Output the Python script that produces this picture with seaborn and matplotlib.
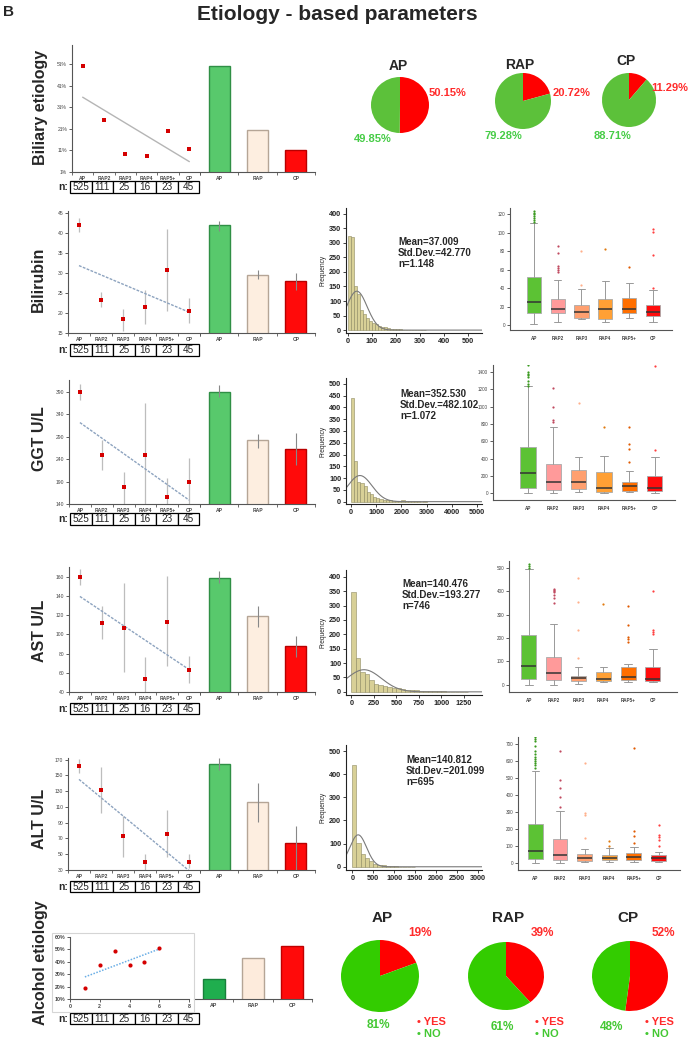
import numpy as np
import pandas as pd
import matplotlib
matplotlib.use("Agg")
import matplotlib.pyplot as plt
from matplotlib.patches import Rectangle
import seaborn as sns

sns.set_style("ticks")
plt.rcParams["font.family"] = ["Liberation Sans", "DejaVu Sans"]

W, H = 688, 1039

# ---------------- data ----------------
groups = ["AP", "RAP2", "RAP3", "RAP4", "RAP5+", "CP"]
n_counts = ["525", "111", "25", "16", "23", "45"]
main_groups = ["AP", "RAP", "CP"]

# biliary etiology (%)
biliary_pts = [50.2, 25.0, 9.5, 8.5, 20.0, 11.5]
biliary_bars = [50.15, 20.72, 11.29]
biliary_pie_yes = [50.15, 20.72, 11.29]
biliary_pie_no = [49.85, 79.28, 88.71]

# bilirubin
bili_pts = [41.9, 23.2, 18.4, 21.5, 30.7, 20.5]
bili_lo = [40.2, 21.4, 15.5, 17.2, 20.5, 17.5]
bili_hi = [43.7, 25.2, 21.0, 25.7, 41.0, 23.7]
bili_bars = [41.9, 29.6, 28.1]
bili_bars_lo = [40.6, 28.6, 25.7]
bili_bars_hi = [43.1, 30.7, 30.1]
bili_hist = [325, 320, 150, 125, 70, 55, 42, 32, 26, 20, 15, 12, 9, 7, 5, 4, 3, 3, 2, 2, 1, 1, 1, 1, 0, 1]
bili_q1 = [13, 12.6, 8, 6.5, 13, 9.4]
bili_med = [24.5, 17.7, 13.7, 17.7, 17.7, 14.4]
bili_q3 = [52, 28, 21.6, 28, 28.8, 21.6]
bili_wlo = [0.7, 3, 6, 3.6, 7.2, 3.6]
bili_whi = [111, 49, 39, 47.6, 45.4, 38.2]
bili_fliers = [[112, 114, 116, 118, 120, 122, 124], [58, 60, 62, 64, 78, 86],
               [43, 80], [83], [63], [40, 76, 101, 104]]

# GGT
ggt_pts = [390, 250, 177, 250, 155, 190]
ggt_lo = [372, 217, 140, 140, 130, 135]
ggt_hi = [409, 283, 212, 365, 197, 243]
ggt_bars = [391, 282, 263]
ggt_bars_lo = [380, 266, 227]
ggt_bars_hi = [406, 296, 298]
ggt_hist = [439, 173, 85, 81, 67, 42, 33, 21, 17, 11, 8, 6, 5, 4, 4, 3, 5, 3, 2, 2, 1, 1, 0, 1]
ggt_q1 = [66, 39, 47, 20, 27, 27]
ggt_med = [235, 125, 129, 66, 82, 55]
ggt_q3 = [528, 340, 266, 246, 133, 196]
ggt_wlo = [0, 0, 16, 8, 12, 8]
ggt_whi = [1232, 763, 419, 430, 262, 415]
ggt_fliers = [[1240, 1260, 1300, 1340, 1360, 1380, 1400, 1480], [820, 840, 990, 1220],
              [1040], [770], [360, 510, 570, 765], [500, 1470]]

# AST
ast_pts = [159.7, 112, 106.4, 53.8, 113.3, 63]
ast_lo = [151, 95, 60.4, 36, 66.6, 49.3]
ast_hi = [167.6, 129, 153, 76, 160.7, 77.7]
ast_bars = [159, 118.6, 87.4]
ast_bars_lo = [153, 107.6, 76.3]
ast_bars_hi = [166, 129.7, 98.5]
ast_hist = [348, 118, 70, 61, 41, 29, 23, 20, 17, 15, 13, 10, 8, 6, 5, 4, 3, 3, 2, 2, 2, 1, 1, 1, 0, 1]
ast_q1 = [26, 21, 17, 18, 21, 17]
ast_med = [81, 50, 31, 24, 36, 27]
ast_q3 = [213, 119, 40, 54, 75, 75]
ast_wlo = [0, 0, 6, 14, 11, 11]
ast_whi = [494, 258, 77, 77, 90, 153]
ast_fliers = [[500, 505, 515], [350, 370, 385, 395, 400, 405, 410], [115, 235, 355, 455],
              [345], [185, 195, 205, 255, 335], [215, 225, 235, 400]]

# ALT
alt_pts = [162, 131.8, 72.9, 39.7, 75.5, 40.5]
alt_lo = [153, 102, 46.8, 28, 46.8, 32]
alt_hi = [170.8, 161, 98, 50, 105.7, 50]
alt_bars = [164.5, 116.2, 63.6]
alt_bars_lo = [157, 91, 30]
alt_bars_hi = [172, 140, 85.5]
alt_hist = [439, 101, 55, 36, 26, 14, 9, 6, 4, 3, 2, 1, 1, 0, 1]
alt_q1 = [25, 20, 12, 18, 22, 14]
alt_med = [72, 51, 29, 29, 39, 29]
alt_q3 = [231, 141, 53, 49, 59, 49]
alt_wlo = [0, 0, 6, 10, 10, 8]
alt_whi = [540, 307, 84, 88, 98, 65]
alt_fliers = [[560, 575, 590, 600, 610, 625, 640, 660, 690, 720, 730, 740], [330, 390, 440, 490, 660],
              [150, 285, 295, 590], [100, 130], [120, 160, 190, 675], [100, 140, 155, 165, 225]]

# alcohol etiology (%)
alc_x = [1, 2, 3, 4, 5, 6]
alc_pts = [19, 37.7, 48.7, 37.7, 39.8, 51.4]
alc_bars = [26, 43, 53]
alc_pie_yes = [19, 39, 52]
alc_pie_no = [81, 61, 48]

# ---------------- helpers ----------------
fig = plt.figure(figsize=(W / 100, H / 100), dpi=100)


def px(l, t, r, b):
    return [l / W, 1 - b / H, (r - l) / W, (b - t) / H]


def fx(x, y):
    return x / W, 1 - y / H


def style_axis(ax, fs=3.6):
    sns.despine(ax=ax)
    for s in ("left", "bottom"):
        ax.spines[s].set_color("#555555")
        ax.spines[s].set_linewidth(0.8)
    ax.tick_params(labelsize=fs, colors="#444444", length=2, width=0.6, pad=1.5)
    ax.set_xlabel("")
    ax.set_ylabel("")


bar_colors = ["#58c96c", "#fdeee0", "#ff0a0a"]
bar_edges = ["#2f8f45", "#b5a596", "#b80000"]


def trend_row(sc, bb, pts, lo, hi, bars, blo, bhi, ylim, yticks, ylabels, lcolor, lstyle):
    ax = fig.add_axes(px(*sc))
    x = np.arange(len(groups))
    if lo is not None:
        ax.errorbar(x, pts, yerr=[np.subtract(pts, lo), np.subtract(hi, pts)], fmt="none",
                    ecolor="#bdbdbd", elinewidth=0.9, zorder=1)
    sns.regplot(x=x, y=pts, ax=ax, scatter=False, ci=None,
                line_kws=dict(color=lcolor, lw=1.0, linestyle=lstyle, zorder=2))
    sns.scatterplot(x=x, y=pts, ax=ax, color="#d40000", marker="s", s=7, linewidth=0, zorder=3)
    axb = fig.add_axes(px(*bb), sharey=ax)
    sns.barplot(x=main_groups, y=bars, hue=main_groups, palette=bar_colors, legend=False,
                ax=axb, width=0.55, saturation=1)
    for p, ec in zip(axb.patches, bar_edges):
        p.set_edgecolor(ec)
        p.set_linewidth(1.0)
    if blo is not None:
        axb.errorbar(np.arange(3), bars, yerr=[np.subtract(bars, blo), np.subtract(bhi, bars)],
                     fmt="none", ecolor="#888888", elinewidth=0.8, zorder=4)
    ax.set_xlim(-0.5, 5.5)
    ax.set_ylim(*ylim)
    ax.set_yticks(yticks, ylabels)
    ax.set_xticks(x, groups)
    style_axis(ax)
    style_axis(axb)
    axb.spines["left"].set_visible(False)
    axb.tick_params(axis="y", left=False, labelleft=False)
    axb.set_xlim(-0.5, 2.5)
    for a, nb in ((ax, 6), (axb, 3)):
        a.set_xticks(np.arange(nb + 1) - 0.5, minor=True)
        a.tick_params(axis="x", which="major", length=0, pad=3)
        a.tick_params(axis="x", which="minor", length=2, width=0.6, color="#555555")
        for t in a.get_xticklabels():
            t.set_fontweight("bold")
    return ax, axb


def n_table(l, t, r, b):
    axt = fig.add_axes(px(l, t, r, b))
    axt.axis("off")
    tb = axt.table(cellText=[n_counts], cellLoc="center", bbox=[0, 0, 1, 1])
    tb.auto_set_font_size(False)
    tb.set_fontsize(7.2)
    for c in tb.get_celld().values():
        c.set_linewidth(0.9)
    fig.text(*fx(l - 2, (t + b) / 2), "n:", ha="right", va="center", fontsize=7.5, fontweight="bold")


def hist_panel(box, counts, bw, mean, sd, n, txt, txt_pos, xlim, ylim, xticks, yticks):
    ax = fig.add_axes(px(*box))
    nb = len(counts)
    df = pd.DataFrame({"value": np.arange(nb) * bw + bw / 2, "count": counts})
    sns.histplot(data=df, x="value", weights="count", binwidth=bw, binrange=(0, nb * bw), ax=ax,
                 color="#d8d097", edgecolor="#8f8a62", linewidth=0.4, alpha=1)
    xs = np.linspace(xlim[0], xlim[1], 400)
    dens = n * bw * np.exp(-0.5 * ((xs - mean) / sd) ** 2) / (sd * np.sqrt(2 * np.pi))
    ax.plot(xs, dens, color="#7a7a7a", lw=0.8)
    ax.set_xlim(*xlim)
    ax.set_ylim(*ylim)
    ax.set_xticks(xticks)
    ax.set_yticks(yticks)
    style_axis(ax, fs=5.2)
    ax.spines["left"].set_color("#222222")
    ax.spines["bottom"].set_color("#222222")
    ax.tick_params(colors="#222222")
    for t in ax.get_xticklabels() + ax.get_yticklabels():
        t.set_fontweight("bold")
    ax.set_ylabel("Frequency", fontsize=4.8, labelpad=2)
    fig.text(*fx(*txt_pos), txt, ha="left", va="top", fontsize=7, fontweight="bold", linespacing=1.15)


box_colors = ["#5cc234", "#ff9a9a", "#ffa070", "#ffa035", "#ff6f00", "#ff0d0d"]
flier_colors = ["#3a9a20", "#c04a60", "#ffb08a", "#e07a10", "#e05a00", "#ff4040"]


def box_panel(box, q1, med, q3, wlo, whi, fliers, xlim, ylim, yticks):
    ax = fig.add_axes(px(*box))
    stats = [dict(q1=a, med=m, q3=c, whislo=lo, whishi=hi, fliers=f)
             for a, m, c, lo, hi, f in zip(q1, med, q3, wlo, whi, fliers)]
    bp = ax.bxp(stats, positions=range(len(groups)), widths=0.6, patch_artist=True,
                boxprops=dict(edgecolor="#aaaaaa", linewidth=0.6),
                medianprops=dict(color="#333333", linewidth=1.1),
                whiskerprops=dict(color="#999999", linewidth=0.7),
                capprops=dict(color="#999999", linewidth=0.7),
                flierprops=dict(marker="o", markersize=1.6, markeredgewidth=0))
    for patch, fc in zip(bp["boxes"], box_colors):
        patch.set_facecolor(fc)
    for fl, fc in zip(bp["fliers"], flier_colors):
        fl.set_markerfacecolor(fc)
    ax.set_xlim(*xlim)
    ax.set_ylim(*ylim)
    ax.set_yticks(yticks)
    ax.set_xticks(range(len(groups)), groups)
    style_axis(ax, fs=3.3)
    ax.tick_params(axis="x", length=0, pad=4)
    for t in ax.get_xticklabels():
        t.set_fontweight("bold")


def pie_panel(cx, cy, rx, ry, yes, no, colors):
    ax = fig.add_axes(px(cx - rx, cy - ry, cx + rx, cy + ry))
    ax.pie([yes, no], colors=colors, startangle=90, counterclock=False,
           wedgeprops=dict(linewidth=0))
    ax.set_aspect("auto")
    ax.set_xlim(-1, 1)
    ax.set_ylim(-1, 1)


def row_label(x, y, s):
    fig.text(*fx(x, y), s, rotation=90, ha="center", va="center", fontsize=11.5, fontweight="bold")


# ---------------- title ----------------
fig.text(*fx(8, 12), "B", ha="center", va="center", fontsize=11, fontweight="bold")
fig.text(*fx(337, 15), "Etiology - based parameters", ha="center", va="center",
         fontsize=15, fontweight="bold")

# ---------------- row 1: biliary ----------------
row_label(40, 107, "Biliary etiology")
trend_row((72, 45, 200, 172), (200, 45, 315, 172), biliary_pts, None, None, biliary_bars, None, None,
          (1, 60), np.arange(1, 52, 10), [f"{v}%" for v in range(1, 52, 10)], "#b5b5b5", "-")
n_table(70, 181, 199, 193)

red_txt, green_top = "#ff2b2b", "#46cc46"
pie_specs_top = [(400, 105, 29, 28), (523, 101, 28, 28), (629, 100, 27, 27)]
for (cx, cy, rx, ry), yes, no in zip(pie_specs_top, biliary_pie_yes, biliary_pie_no):
    pie_panel(cx, cy, rx, ry, yes, no, ["#ff0000", "#5cc13a"])
for pos, s in zip([(398, 66), (520, 65), (626, 61)], main_groups):
    fig.text(*fx(*pos), s, ha="center", va="center", fontsize=10, fontweight="bold")
for pos, v in zip([(447, 93), (572, 93), (670, 88)], biliary_pie_yes):
    fig.text(*fx(*pos), f"{v:.2f}%", ha="center", va="center", fontsize=8, fontweight="bold", color=red_txt)
for pos, v in zip([(373, 139), (503, 136), (613, 136)], biliary_pie_no):
    fig.text(*fx(*pos), f"{v:.2f}%", ha="center", va="center", fontsize=8, fontweight="bold", color=green_top)

# ---------------- rows 2-5 ----------------
dot = (0, (2, 1))
row_label(38, 279, "Bilirubin")
trend_row((68, 211, 200, 333), (200, 211, 315, 333), bili_pts, bili_lo, bili_hi, bili_bars,
          bili_bars_lo, bili_bars_hi, (15, 45.5), np.arange(15, 46, 5), [str(v) for v in range(15, 46, 5)],
          "#8da3bf", dot)
n_table(70, 344, 199, 356)
hist_panel((346, 208, 482, 333), bili_hist, 12.5, 37.009, 42.770, 1148,
           "Mean=37.009\nStd.Dev.=42.770\nn=1.148", (398, 237),
           (-8, 558), (-10, 420), np.arange(0, 501, 100), np.arange(0, 401, 50))
box_panel((510, 208, 672, 330), bili_q1, bili_med, bili_q3, bili_wlo, bili_whi, bili_fliers,
          (-1.0, 5.8), (-5.4, 127), np.arange(0, 121, 20))

row_label(40, 439, "GGT U/L")
trend_row((69, 380, 200, 504), (200, 380, 315, 504), ggt_pts, ggt_lo, ggt_hi, ggt_bars,
          ggt_bars_lo, ggt_bars_hi, (140, 417), np.arange(140, 391, 50), [str(v) for v in range(140, 391, 50)],
          "#8da3bf", dot)
n_table(70, 513, 199, 525)
hist_panel((346, 378, 482, 504), ggt_hist, 125, 352.530, 482.102, 1072,
           "Mean=352.530\nStd.Dev.=482.102\nn=1.072", (400, 389),
           (-200, 5200), (-10, 525), np.arange(0, 5001, 1000), np.arange(0, 501, 50))
box_panel((493, 365, 675, 500), ggt_q1, ggt_med, ggt_q3, ggt_wlo, ggt_whi, ggt_fliers,
          (-1.38, 5.8), (-78, 1480), np.arange(0, 1401, 200))

row_label(40, 631, "AST U/L")
trend_row((69, 567, 200, 692), (200, 567, 315, 692), ast_pts, ast_lo, ast_hi, ast_bars,
          ast_bars_lo, ast_bars_hi, (40, 170), np.arange(40, 161, 20), [str(v) for v in range(40, 161, 20)],
          "#8da3bf", dot)
n_table(70, 703, 199, 714)
hist_panel((346, 570, 482, 695), ast_hist, 50, 140.476, 193.277, 746,
           "Mean=140.476\nStd.Dev.=193.277\nn=746", (402, 579),
           (-60, 1450), (-11, 424), np.arange(0, 1251, 250), np.arange(0, 401, 50))
box_panel((509, 561, 677, 692), ast_q1, ast_med, ast_q3, ast_wlo, ast_whi, ast_fliers,
          (-0.8, 5.97), (-30, 528), np.arange(0, 501, 100))

row_label(40, 819, "ALT U/L")
trend_row((68, 758, 200, 870), (200, 758, 315, 870), alt_pts, alt_lo, alt_hi, alt_bars,
          alt_bars_lo, alt_bars_hi, (30, 172), np.arange(30, 171, 20), [str(v) for v in range(30, 171, 20)],
          "#8da3bf", dot)
n_table(70, 881, 199, 892)
hist_panel((346, 745, 482, 870), alt_hist, 100, 140.812, 201.099, 695,
           "Mean=140.812\nStd.Dev.=201.099\nn=695", (406, 755),
           (-150, 3100), (-14, 526), np.arange(0, 3001, 500), np.arange(0, 501, 100))
box_panel((518, 737, 680, 870), alt_q1, alt_med, alt_q3, alt_wlo, alt_whi, alt_fliers,
          (-0.7, 5.87), (-39, 742), np.arange(0, 701, 100))

# ---------------- row 6: alcohol ----------------
row_label(40, 963, "Alcohol etiology")
fig.patches.append(Rectangle(fx(52, 1012), (194 - 52) / W, (1012 - 933) / H, transform=fig.transFigure,
                             fill=False, edgecolor="#d5d5d5", linewidth=0.8))
ax6 = fig.add_axes(px(70, 937, 189, 999))
sns.regplot(x=alc_x, y=alc_pts, ax=ax6, scatter=False, ci=None,
            line_kws=dict(color="#6aaee6", lw=1.1, linestyle=(0, (1, 1))))
sns.scatterplot(x=alc_x, y=alc_pts, ax=ax6, color="#d40000", marker="o", s=9, linewidth=0, zorder=3)
ax6.set_xlim(0, 8)
ax6.set_ylim(10, 60)
ax6.set_xticks(range(0, 9, 2))
ax6.set_yticks(range(10, 61, 10), [f"{v}%" for v in range(10, 61, 10)])
style_axis(ax6, fs=3.8)
for t in ax6.get_xticklabels() + ax6.get_yticklabels():
    t.set_fontweight("bold")

ax6b = fig.add_axes(px(194, 937, 312, 999))
sns.barplot(x=main_groups, y=alc_bars, hue=main_groups, palette=["#1fae4e", "#fdebdc", "#ff0a0a"],
            legend=False, ax=ax6b, width=0.56, saturation=1)
for p, ec in zip(ax6b.patches, ["#17803a", "#b5a596", "#c00000"]):
    p.set_edgecolor(ec)
    p.set_linewidth(1.0)
ax6b.set_ylim(10, 60)
ax6b.set_xlim(-0.5, 2.5)
style_axis(ax6b, fs=3.8)
ax6b.spines["left"].set_visible(False)
ax6b.tick_params(axis="y", left=False, labelleft=False)
ax6b.set_xticks(np.arange(4) - 0.5, minor=True)
ax6b.tick_params(axis="x", which="major", length=0, pad=3)
ax6b.tick_params(axis="x", which="minor", length=2, width=0.6, color="#555555")
for t in ax6b.get_xticklabels():
    t.set_fontweight("bold")
n_table(70, 1013, 199, 1024)

pie_specs_bot = [(380, 976, 39, 36), (506, 976, 38, 34), (630, 976, 38, 35)]
for (cx, cy, rx, ry), yes, no in zip(pie_specs_bot, alc_pie_yes, alc_pie_no):
    pie_panel(cx, cy, rx, ry, yes, no, ["#ff0000", "#33cc00"])
for pos, s in zip([(382, 918), (508, 918), (628, 918)], main_groups):
    fig.text(*fx(*pos), s, ha="center", va="center", fontsize=11, fontweight="bold")
for pos, v in zip([(420, 933), (542, 933), (663, 933)], alc_pie_yes):
    fig.text(*fx(*pos), f"{v}%", ha="center", va="center", fontsize=8.5, fontweight="bold", color=red_txt)
for pos, v in zip([(378, 1025), (502, 1027), (612, 1027)], alc_pie_no):
    fig.text(*fx(*pos), f"{v}%", ha="center", va="center", fontsize=8.5, fontweight="bold", color="#44c833")
for lx in (417, 535, 645):
    fig.text(*fx(lx, 1022), "• YES", ha="left", va="center", fontsize=8, fontweight="bold", color=red_txt)
    fig.text(*fx(lx, 1034), "• NO", ha="left", va="center", fontsize=8, fontweight="bold", color="#44c833")

fig.savefig("out.png", dpi=100, facecolor="white")
